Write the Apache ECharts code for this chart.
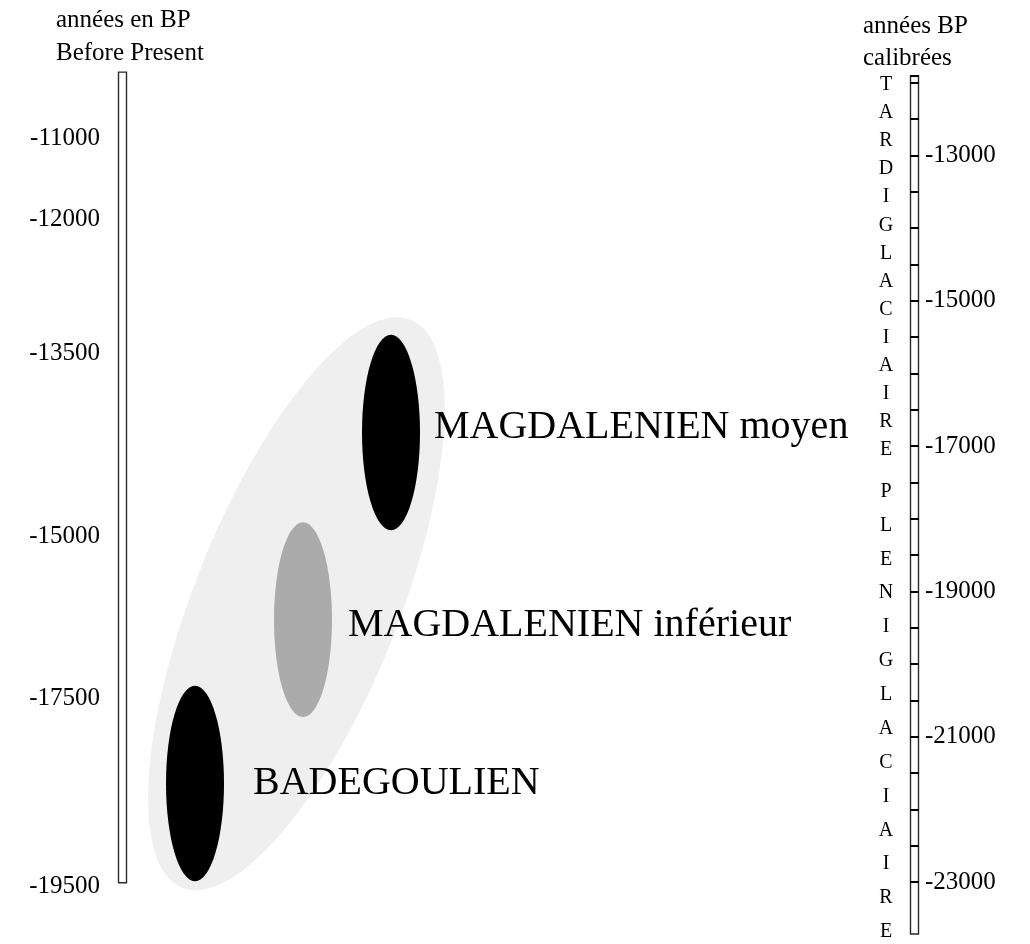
<!DOCTYPE html>
<html>
<head>
<meta charset="utf-8">
<script src="https://cdn.jsdelivr.net/npm/echarts@6/dist/echarts.min.js"></script>
<style>
  html, body { margin: 0; padding: 0; background: #fff; }
  #main { width: 1030px; height: 944px; }
</style>
</head>
<body>
<div id="main"></div>
<script>
// cultures, dated on the calibrated scale (years BP)
const cultures = ['MAGDALENIEN moyen', 'MAGDALENIEN inférieur', 'BADEGOULIEN'];
const cultureX = [39.1, 30.3, 19.5];
const cultureTop = [-15470, -18050, -20300];
const cultureBottom = [-18160, -20730, -22990];
const cultureColor = ['#000000', '#ababab', '#000000'];

// grey envelope round the three cultures
const groupX = [29.65];
const groupY = [-19170];

// uncalibrated BP labels (left) and where they sit on the calibrated scale
const bpLabels = [-11000, -12000, -13500, -15000, -17500, -19500];
const bpCalPos = [-12770, -13880, -15720, -18250, -20470, -23060];

// calibrated labels (right)
const calLabels = [-13000, -15000, -17000, -19000, -21000, -23000];

// climatic periods written down the right scale
const periods = ['TARDIGLACIAIRE', 'PLENIGLACIAIRE'];
const periodStart = [-11835, -17395];
const periodEnd = [-17250, -23920];

// the two scale bars
const scaleX = [12.25, 91.45];
const scaleTop = [-11855, -11910];
const scaleBottom = [-23010, -23715];

const serif = '"Liberation Serif", "Times New Roman", serif';

const chart = echarts.init(document.getElementById('main'));

const option = {
  backgroundColor: '#ffffff',
  animation: false,
  title: [{
    text: 'années en BP\nBefore Present',
    left: 56,
    top: 4,
    padding: 0,
    textStyle: { fontFamily: serif, fontSize: 25, fontWeight: 'normal', color: '#000', lineHeight: 33 }
  }, {
    text: 'années BP\ncalibrées',
    left: 863,
    top: 10,
    padding: 0,
    textStyle: { fontFamily: serif, fontSize: 25, fontWeight: 'normal', color: '#000', lineHeight: 32 }
  }],
  grid: { left: 0, right: 120, top: 75.4, bottom: 62 },
  xAxis: { type: 'value', min: 0, max: 91, show: false },
  yAxis: {
    type: 'value',
    min: -23000,
    max: -11900,
    interval: 500,
    position: 'right',
    z: 5,
    axisLine: { show: false, onZero: false },
    splitLine: { show: false },
    axisTick: { show: true, length: 9, lineStyle: { color: '#000', width: 2 } },
    axisLabel: {
      margin: 15,
      fontFamily: serif,
      fontSize: 25,
      color: '#000',
      formatter: v => calLabels.includes(v) ? String(v) : ''
    }
  },
  series: [{
    name: 'envelope',
    type: 'custom',
    clip: false,
    z: 1,
    data: groupX.map((x, i) => [x, groupY[i]]),
    renderItem: (params, api) => {
      const c = api.coord([api.value(0), api.value(1)]);
      return {
        type: 'ellipse',
        x: c[0], y: c[1],
        rotation: -0.382,
        shape: { cx: 0, cy: 0, rx: 102, ry: 306 },
        style: { fill: '#efefef' }
      };
    }
  }, {
    name: 'cultures',
    type: 'custom',
    clip: false,
    z: 3,
    data: cultures.map((n, i) => ({ name: n, value: [cultureX[i], cultureTop[i], cultureBottom[i]] })),
    renderItem: (params, api) => {
      const i = params.dataIndex;
      const labelShift = [[14, -5.5], [16, 6], [29, -0.5]];
      const t = api.coord([api.value(0), api.value(1)]);
      const b = api.coord([api.value(0), api.value(2)]);
      const cy = (t[1] + b[1]) / 2;
      const rx = 29;
      return {
        type: 'group',
        children: [{
          type: 'ellipse',
          shape: { cx: t[0], cy: cy, rx: rx, ry: (b[1] - t[1]) / 2 },
          style: { fill: cultureColor[i] }
        }, {
          type: 'text',
          x: t[0] + rx + labelShift[i][0],
          y: cy + labelShift[i][1],
          style: {
            text: cultures[i], fill: '#000',
            font: '40px ' + serif,
            align: 'left', verticalAlign: 'middle'
          }
        }]
      };
    }
  }, {
    name: 'scale bars',
    type: 'custom',
    clip: false,
    z: 2,
    data: scaleX.map((x, i) => [x, scaleTop[i], scaleBottom[i]]),
    renderItem: (params, api) => {
      const t = api.coord([api.value(0), api.value(1)]);
      const b = api.coord([api.value(0), api.value(2)]);
      return {
        type: 'rect',
        shape: { x: t[0] - 4, y: t[1], width: 8, height: b[1] - t[1] },
        style: { fill: 'transparent', stroke: '#2a2a2a', lineWidth: 1.4 }
      };
    }
  }, {
    name: 'BP labels',
    type: 'custom',
    clip: false,
    z: 3,
    data: bpLabels.map((v, i) => [10.0, bpCalPos[i], v]),
    renderItem: (params, api) => {
      const c = api.coord([api.value(0), api.value(1)]);
      return {
        type: 'text',
        x: c[0], y: c[1],
        style: {
          text: String(api.value(2)), fill: '#000',
          font: '25px ' + serif,
          align: 'right', verticalAlign: 'middle'
        }
      };
    }
  }, {
    name: 'periods',
    type: 'custom',
    clip: false,
    z: 3,
    data: periods.map((p, i) => [88.6, periodStart[i], periodEnd[i]]),
    renderItem: (params, api) => {
      const word = periods[params.dataIndex];
      const t = api.coord([api.value(0), api.value(1)]);
      const b = api.coord([api.value(0), api.value(2)]);
      const step = (b[1] - t[1]) / word.length;
      const children = word.split('').map((ch, k) => ({
        type: 'text',
        x: t[0],
        y: t[1] + step * (k + 0.5),
        style: {
          text: ch, fill: '#000',
          font: '20px ' + serif,
          align: 'center', verticalAlign: 'middle'
        }
      }));
      return { type: 'group', children: children };
    }
  }]
};

chart.setOption(option);
</script>
</body>
</html>
